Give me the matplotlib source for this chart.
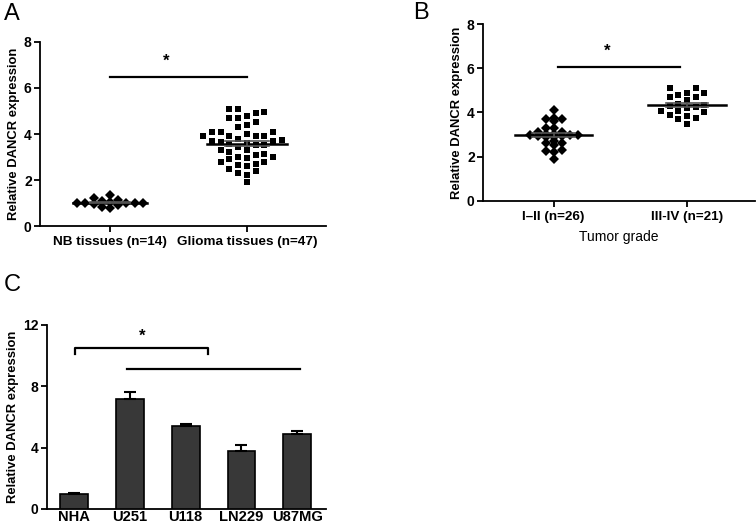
import numpy as np
import matplotlib
matplotlib.use("Agg")
import matplotlib.pyplot as plt

plt.rcParams['font.family'] = ['Liberation Sans', 'DejaVu Sans']

# ---- data ----
a_categories = ["NB tissues (n=14)", "Glioma tissues (n=47)"]
a_nb = [1.33, 1.2, 1.15, 1.1, 1.05, 1.0, 1.0, 1.0, 1.0, 1.0, 0.95, 0.9, 0.82, 0.8]
a_glioma = [5.1, 5.1, 4.95, 4.9, 4.8, 4.7, 4.7, 4.5, 4.4, 4.3, 4.1, 4.1, 4.1, 4.0,
            3.9, 3.9, 3.9, 3.9, 3.8, 3.75, 3.7, 3.7, 3.65, 3.6, 3.55, 3.5, 3.5, 3.45,
            3.3, 3.3, 3.2, 3.15, 3.1, 3.0, 3.0, 2.95, 2.9, 2.8, 2.8, 2.7, 2.65, 2.6,
            2.5, 2.4, 2.3, 2.2, 1.9]

b_categories = ["I\u2013II (n=26)", "III-IV (n=21)"]
b_low = [4.1, 3.75, 3.7, 3.7, 3.6, 3.3, 3.3, 3.1, 3.1, 3.05, 3.05, 3.0, 3.0, 3.0,
         2.95, 2.95, 2.9, 2.9, 2.7, 2.6, 2.6, 2.55, 2.3, 2.25, 2.2, 1.9]
b_high = [5.1, 5.1, 4.9, 4.9, 4.8, 4.7, 4.7, 4.55, 4.4, 4.35, 4.3, 4.25, 4.2, 4.05,
          4.05, 4.0, 3.9, 3.85, 3.75, 3.7, 3.5]

c_categories = ["NHA", "U251", "U118", "LN229", "U87MG"]
c_values = [1.0, 7.2, 5.4, 3.8, 4.9]
c_errors = [0.04, 0.45, 0.15, 0.4, 0.18]

W, H = 756, 528
fig = plt.figure(figsize=(W / 100, H / 100), dpi=100)


def px_axes(x0, y0, x1, y1):
    return fig.add_axes([x0 / W, 1 - y1 / H, (x1 - x0) / W, (y1 - y0) / H])


def style(ax, xsize=9.7):
    for s in ("top", "right"):
        ax.spines[s].set_visible(False)
    for s in ("left", "bottom"):
        ax.spines[s].set_linewidth(1.3)
    ax.tick_params(direction="out", length=4, width=1.3)
    ax.tick_params(axis="y", labelsize=10, pad=2)
    ax.tick_params(axis="x", labelsize=xsize)
    for lab in ax.get_yticklabels() + ax.get_xticklabels():
        lab.set_fontweight("bold")


def swarm(vals, center, step, ythr):
    order = np.argsort(vals)
    slots = {}
    xs = np.zeros(len(vals))
    cand = [0]
    for k in range(1, 20):
        cand += [-k, k]
    for i in order:
        v = vals[i]
        for k in cand:
            if all(abs(v - pv) >= ythr for pv in slots.get(k, [])):
                slots.setdefault(k, []).append(v)
                xs[i] = center + k * step
                break
    return xs


def scatter_group(ax, vals, center, marker, ms, step, ythr, half):
    vals = np.asarray(vals)
    xs = swarm(vals, center, step, ythr)
    ax.plot(xs, vals, linestyle="none", marker=marker, ms=ms, color="black",
            markeredgewidth=0, zorder=3)
    m = vals.mean()
    sem = vals.std(ddof=1) / np.sqrt(len(vals))
    ax.plot([center - half, center + half], [m, m], color="black", lw=1.8, zorder=4)
    ax.plot([center - half * 0.55, center + half * 0.55], [m + sem, m + sem],
            color="#555555", lw=1.2, zorder=4)
    ax.plot([center - half * 0.55, center + half * 0.55], [m - sem, m - sem],
            color="#555555", lw=1.2, zorder=4)
    ax.plot([center, center], [m - sem, m + sem], color="#555555", lw=1.2, zorder=4)


YLAB = dict(fontsize=9.4, fontweight="bold", labelpad=3)

# ---- Panel A ----
axA = px_axes(40, 42, 326, 226)
scatter_group(axA, a_nb, 0, "D", 4.6, 0.06, 0.22, 0.27)
scatter_group(axA, a_glioma, 1, "s", 4.7, 0.064, 0.3, 0.29)
axA.set_xlim(-0.511, 1.577)
axA.set_ylim(0, 8)
axA.set_yticks([0, 2, 4, 6, 8])
axA.set_xticks([0, 1])
axA.set_xticklabels(a_categories)
axA.set_ylabel("Relative DANCR expression", **YLAB)
axA.plot([0, 1], [6.48, 6.48], color="black", lw=1.6, clip_on=False)
axA.text(0.41, 6.85, "*", ha="center", va="bottom", fontsize=12, fontweight="bold")
style(axA)
fig.text(4 / W, 1 - 14 / H, "A", fontsize=17, va="center", ha="left")

# ---- Panel B ----
axB = px_axes(483, 24, 755, 201)
scatter_group(axB, b_low, 0, "D", 4.6, 0.06, 0.13, 0.29)
scatter_group(axB, b_high, 1, "s", 4.7, 0.065, 0.32, 0.29)
axB.set_xlim(-0.53, 1.51)
axB.set_ylim(0, 8)
axB.set_yticks([0, 2, 4, 6, 8])
axB.set_xticks([0, 1])
axB.set_xticklabels(b_categories)
axB.set_ylabel("Relative DANCR expression", **YLAB)
axB.set_xlabel("Tumor grade", fontsize=10, labelpad=5)
axB.plot([0.03, 0.95], [6.06, 6.06], color="black", lw=1.6, clip_on=False)
axB.text(0.4, 6.45, "*", ha="center", va="bottom", fontsize=12, fontweight="bold")
style(axB)
fig.text(413 / W, 1 - 13 / H, "B", fontsize=17, va="center", ha="left")

# ---- Panel C ----
axC = px_axes(47, 325, 326, 509)
xc = np.arange(len(c_categories))
axC.bar(xc, c_values, width=0.5, color="#383838", edgecolor="black", linewidth=1.2,
        yerr=[np.zeros(len(c_errors)), c_errors], capsize=4,
        error_kw=dict(elinewidth=1.5, capthick=1.5, ecolor="black"), zorder=3)
axC.set_xlim(-0.485, 4.515)
axC.set_ylim(0, 12)
axC.set_yticks([0, 4, 8, 12])
axC.set_xticks(xc)
axC.set_xticklabels(c_categories)
axC.set_ylabel("Relative DANCR expression", **YLAB)
axC.plot([0.02, 0.02, 2.4, 2.4], [10.13, 10.5, 10.5, 10.13], color="black", lw=1.6,
         clip_on=False)
axC.plot([0.95, 4.05], [9.15, 9.15], color="black", lw=1.6, clip_on=False)
axC.text(1.22, 10.8, "*", ha="center", va="bottom", fontsize=12, fontweight="bold")
style(axC, xsize=10.6)
axC.tick_params(axis="x", length=0, pad=1)
fig.text(4 / W, 1 - 285 / H, "C", fontsize=17, va="center", ha="left")

fig.savefig("out.png", dpi=100)
